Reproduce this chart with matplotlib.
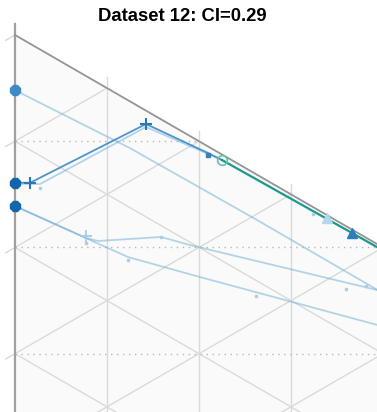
import numpy as np
import matplotlib.pyplot as plt

# ternary fractions: b along the left edge, c along the top edge, a = 1 - b - c
main_b = [0.139, 0.131, 0.0126, 0.0062, 0.0052]
main_c = [0.0, 0.0163, 0.1424, 0.2098, 0.225]
main_light_b = [0.140, 0.1267, 0.0154, 0.0052]
main_light_c = [0.0, 0.0272, 0.1424, 0.225]
edge_b = [0.0052, 0.0032, 0.0028]
edge_c = [0.225, 0.3663, 0.40]
upper_b = [0.052, 0.044, 0.0426, 0.043]
upper_c = [0.0, 0.125, 0.263, 0.40]
mid_b = [0.161, 0.1525, 0.1488, 0.1108, 0.1026, 0.0414]
mid_c = [0.0, 0.0772, 0.0902, 0.1587, 0.1902, 0.40]
low_b = [0.161, 0.1513, 0.1476, 0.1273, 0.0744]
low_c = [0.0, 0.0891, 0.1228, 0.2011, 0.40]

start_b = [0.052, 0.139, 0.161]
start_colors = ['#3d8ac6', '#1166ab', '#1166ab']
plus_dark_b = [0.131, 0.0126]
plus_dark_c = [0.0163, 0.1424]
plus_light_b = [0.1506]
plus_light_c = [0.0772]
circle_b, circle_c = [0.0052], [0.225]
tri_dark_b, tri_dark_c = [0.0032], [0.3663]
tri_light_b, tri_light_c = [0.0027], [0.3391]
dot_b = [0.1305, 0.0066, 0.1503, 0.1108, 0.1147, 0.0592, 0.0455, 0.157]
dot_c = [0.0272, 0.3239, 0.1228, 0.1587, 0.262, 0.3598, 0.3815, 0.0772]
dot_dark_b, dot_dark_c = [0.0081], [0.2098]

title = 'Dataset 12: CI=0.29'

# corner of the ternary (a=1) and side length, in pixels
AX, AY, SIDE = 15.0, 35.0, 1062.3
H = SIDE * np.sqrt(3) / 2


def tern(b, c):
    b = np.asarray(b, dtype=float)
    c = np.asarray(c, dtype=float)
    return AX + H * c, AY + SIDE * b + SIDE / 2 * c


fig = plt.figure(figsize=(3.77, 4.12), dpi=100)
ax = fig.add_axes([0, 0, 1, 1])
ax.set_xlim(0, 377)
ax.set_ylim(412, 0)
ax.axis('off')

# triangle background
tx, ty = tern([0, 1, 0], [0, 0, 1])
ax.fill(tx, ty, color='#fafafa', zorder=0)

grid_col = '#dadada'
ks = np.arange(1, 10) / 10
for k in ks:
    # constant c (vertical), constant b, constant a
    x, y = tern([-0.01, 1 - k], [k, k])
    ax.plot(x, y, color=grid_col, lw=1.0, zorder=1)
    x, y = tern([k, k], [0, 1 - k])
    ax.plot(x, y, color=grid_col, lw=1.0, zorder=1)
    x, y = tern([k + 0.01, 0], [-0.01, k])
    ax.plot(x, y, color=grid_col, lw=1.0, zorder=1)
x, y = tern([0.01, 0], [-0.01, 0])
ax.plot(x, y, color=grid_col, lw=1.0, zorder=1)

# dotted reference lines (b + c/2 = const)
for k in [0.1, 0.2, 0.3, 0.4]:
    x, y = tern([k, 0], [0, 2 * k])
    ax.plot(x, y, color='#b8b8b8', lw=1.0, ls=(0, (1, 3.3)), zorder=1)

# triangle edges
x, y = tern([-0.01, 1], [0, 0])
ax.plot(x, y, color='#a0a0a0', lw=1.6, zorder=2)
x, y = tern([0, 0], [0, 1])
ax.plot(x, y, color='#959595', lw=1.3, zorder=2)

light = '#6baed6'
for bb, cc in [(upper_b, upper_c), (mid_b, mid_c), (low_b, low_c), (main_light_b, main_light_c)]:
    x, y = tern(bb, cc)
    ax.plot(x, y, color=light, lw=1.3, alpha=0.5, zorder=3)

x, y = tern(main_b, main_c)
ax.plot(x, y, color='#3a8bc6', lw=1.3, alpha=0.9, zorder=4)
x, y = tern(edge_b, edge_c)
ax.plot(x, y, color='#1a9a8c', lw=1.6, zorder=4)

x, y = tern(dot_b, dot_c)
ax.plot(x, y, 's', color='#a9cfe8', ms=2, zorder=5)
x, y = tern(dot_dark_b, dot_dark_c)
ax.plot(x, y, 's', color='#3a7fb8', ms=2.2, zorder=5)

x, y = tern(start_b, np.zeros(len(start_b)))
for xi, yi, col in zip(x, y, start_colors):
    ax.plot(xi, yi, '8', color=col, ms=8.5, zorder=6)

x, y = tern(plus_dark_b, plus_dark_c)
ax.plot(x, y, '+', color='#2a78b8', ms=8, mew=1.5, zorder=6)
x, y = tern(plus_light_b, plus_light_c)
ax.plot(x, y, '+', color='#a6cde8', ms=8, mew=1.3, zorder=6)
x, y = tern(circle_b, circle_c)
ax.plot(x, y, 'o', mfc='none', mec='#66c2a4', ms=7, mew=1.2, zorder=6)
x, y = tern(tri_dark_b, tri_dark_c)
ax.plot(x, y, '^', color='#2c7fb8', ms=7.5, zorder=6)
x, y = tern(tri_light_b, tri_light_c)
ax.plot(x, y, '^', color='#b3d6ec', ms=7, zorder=6)

fig.text(182.5 / 377, 1 - 16.7 / 412, title, ha='center', va='center',
         fontsize=13.3, fontweight='bold', family='Liberation Sans')

fig.savefig('out.png', dpi=100)
